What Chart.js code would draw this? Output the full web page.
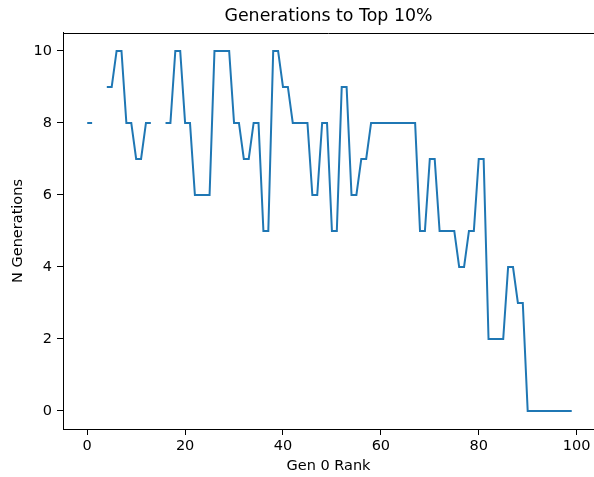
<!DOCTYPE html>
<html>
<head>
<meta charset="utf-8">
<script src="https://cdn.jsdelivr.net/npm/chart.js@4/dist/chart.umd.min.js"></script>
<style>
  html, body { margin: 0; padding: 0; background: #fff; }
  #wrap { width: 594px; height: 477px; }
</style>
</head>
<body>
<div id="wrap"><canvas id="c" width="594" height="477"></canvas></div>
<script>
// Gen 0 rank of each individual
const ranks = [
  0, 1, 2, 3, 4, 5, 6, 7, 8, 9,
  10, 11, 12, 13, 14, 15, 16, 17, 18, 19,
  20, 21, 22, 23, 24, 25, 26, 27, 28, 29,
  30, 31, 32, 33, 34, 35, 36, 37, 38, 39,
  40, 41, 42, 43, 44, 45, 46, 47, 48, 49,
  50, 51, 52, 53, 54, 55, 56, 57, 58, 59,
  60, 61, 62, 63, 64, 65, 66, 67, 68, 69,
  70, 71, 72, 73, 74, 75, 76, 77, 78, 79,
  80, 81, 82, 83, 84, 85, 86, 87, 88, 89,
  90, 91, 92, 93, 94, 95, 96, 97, 98, 99
];

// Generations needed to reach the top 10% (null = never reached)
const generations = [
  8, 8, null, null, 9, 9, 10, 10, 8, 8,
  7, 7, 8, 8, null, null, 8, 8, 10, 10,
  8, 8, 6, 6, 6, 6, 10, 10, 10, 10,
  8, 8, 7, 7, 8, 8, 5, 5, 10, 10,
  9, 9, 8, 8, 8, 8, 6, 6, 8, 8,
  5, 5, 9, 9, 6, 6, 7, 7, 8, 8,
  8, 8, 8, 8, 8, 8, 8, 8, 5, 5,
  7, 7, 5, 5, 5, 5, 4, 4, 5, 5,
  7, 7, 2, 2, 2, 2, 4, 4, 3, 3,
  0, 0, 0, 0, 0, 0, 0, 0, 0, 0
];

const xTicks = [0, 20, 40, 60, 80, 100];
const yTicks = [0, 2, 4, 6, 8, 10];

const FONT = "'DejaVu Sans', 'Liberation Sans', sans-serif";
const INK = '#000000';

const points = ranks.map((r, i) => ({ x: r, y: generations[i] }));

const frame = {
  id: 'frame',
  beforeDraw(chart) {
    const ctx = chart.ctx;
    ctx.save();
    ctx.fillStyle = '#ffffff';
    ctx.fillRect(0, 0, chart.width, chart.height);
    ctx.restore();
  },
  afterDraw(chart) {
    const a = chart.chartArea;
    const ctx = chart.ctx;
    ctx.save();
    ctx.strokeStyle = INK;
    ctx.lineWidth = 1;
    ctx.beginPath();
    ctx.moveTo(a.left, Math.round(a.top) + 0.5);
    ctx.lineTo(a.right, Math.round(a.top) + 0.5);
    ctx.stroke();
    ctx.restore();
  }
};

new Chart(document.getElementById('c'), {
  type: 'line',
  data: {
    datasets: [{
      data: points,
      borderColor: '#1f77b4',
      borderWidth: 2,
      pointRadius: 0,
      pointHoverRadius: 0,
      tension: 0,
      spanGaps: false,
      fill: false
    }]
  },
  options: {
    responsive: false,
    animation: false,
    events: [],
    layout: { padding: { left: 0, right: 0, top: 0, bottom: 0 } },
    plugins: {
      legend: { display: false },
      tooltip: { enabled: false },
      title: {
        display: true,
        text: 'Generations to Top 10%',
        fullSize: false,
        color: INK,
        font: { family: FONT, size: 17.4, weight: 'normal' },
        padding: { top: 6, bottom: 6.1 }
      }
    },
    scales: {
      x: {
        type: 'linear',
        min: -4.95,
        max: 103.55,
        afterFit(scale) { scale.height = 48; },
        afterBuildTicks(scale) { scale.ticks = xTicks.map(v => ({ value: v })); },
        grid: {
          display: true,
          drawOnChartArea: false,
          drawTicks: true,
          tickLength: 6,
          tickWidth: 1,
          tickColor: INK
        },
        border: { display: true, color: INK, width: 1 },
        ticks: {
          color: INK,
          padding: 3,
          maxRotation: 0,
          autoSkip: false,
          font: { family: FONT, size: 14.5 }
        },
        title: {
          display: true,
          text: 'Gen 0 Rank',
          color: INK,
          font: { family: FONT, size: 14.5 },
          padding: { top: 0, bottom: 2.3 }
        }
      },
      y: {
        type: 'linear',
        min: -0.5,
        max: 10.5,
        afterFit(scale) { scale.width = 63; },
        afterBuildTicks(scale) { scale.ticks = yTicks.map(v => ({ value: v })); },
        grid: {
          display: true,
          drawOnChartArea: false,
          drawTicks: true,
          tickLength: 6,
          tickWidth: 1,
          tickColor: INK
        },
        border: { display: true, color: INK, width: 1 },
        ticks: {
          color: INK,
          padding: 5,
          autoSkip: false,
          font: { family: FONT, size: 14.5 }
        },
        title: {
          display: true,
          text: 'N Generations',
          color: INK,
          font: { family: FONT, size: 14.5 },
          padding: { top: 9.3, bottom: 0 }
        }
      }
    }
  },
  plugins: [frame]
});
</script>
</body>
</html>
